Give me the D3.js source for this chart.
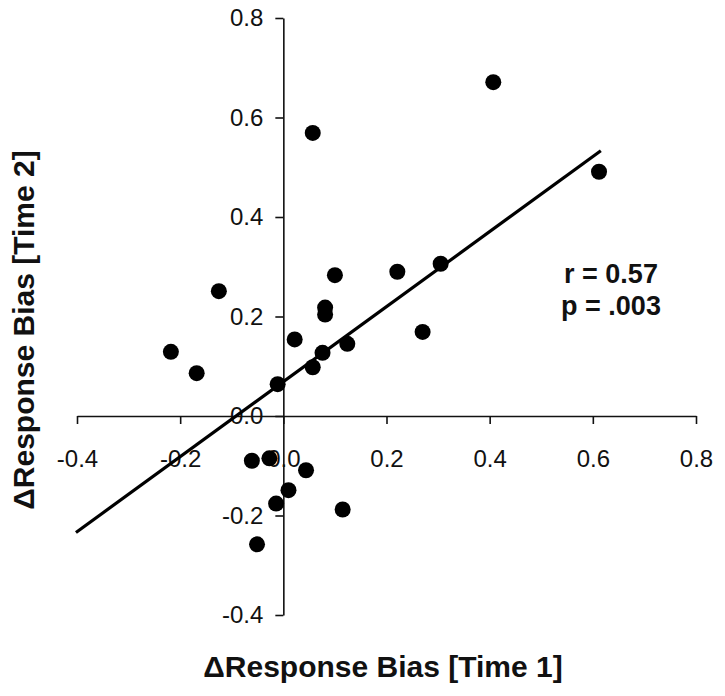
<!DOCTYPE html>
<html>
<head>
<meta charset="utf-8">
<script src="https://cdn.jsdelivr.net/npm/d3@7"></script>
<style>
  html, body { margin: 0; padding: 0; background: #fff; }
  svg { display: block; }
</style>
</head>
<body>
<svg id="chart" width="725" height="696"></svg>
<script>
// ---- data ----
const xValues = [0.407, 0.057, 0.612, -0.125, 0.100, 0.221, 0.305, 0.081, 0.081, 0.270,
                 0.022, 0.124, 0.076, 0.057, -0.218, -0.168, -0.011, -0.061, -0.027, 0.044,
                 0.010, -0.014, 0.115, -0.051];
const yValues = [0.671, 0.569, 0.491, 0.251, 0.283, 0.290, 0.306, 0.218, 0.204, 0.169,
                 0.154, 0.145, 0.127, 0.098, 0.129, 0.086, 0.064, -0.090, -0.085, -0.109,
                 -0.149, -0.176, -0.188, -0.258];
const fitX = [-0.402, 0.6155];
const fitSlope = [0.754];
const fitIntercept = [0.069];
const xTicks = [-0.4, -0.2, 0.0, 0.2, 0.4, 0.6, 0.8];
const yTicks = [-0.4, -0.2, 0.0, 0.2, 0.4, 0.6, 0.8];
const statLines = ["r = 0.57", "p = .003"];
const xTitle = "\u0394Response Bias [Time 1]";
const yTitle = "\u0394Response Bias [Time 2]";

// ---- chart ----
const svg = d3.select("#chart");
const x = d3.scaleLinear().domain([-0.4, 0.8]).range([77, 696]);
const y = d3.scaleLinear().domain([-0.4, 0.8]).range([615, 18]);
const fmt = d => d.toFixed(1);
const font = "Liberation Sans, Arial, Helvetica, sans-serif";

const xAxis = svg.append("g")
  .attr("transform", `translate(0,${y(0)})`)
  .call(d3.axisBottom(x).tickValues(xTicks).tickFormat(fmt).tickSize(8).tickPadding(26).tickSizeOuter(0));
const yAxis = svg.append("g")
  .attr("transform", `translate(${x(0)},0)`)
  .call(d3.axisLeft(y).tickValues(yTicks).tickFormat(fmt).tickSize(8).tickPadding(12).tickSizeOuter(0));

[xAxis, yAxis].forEach(g => {
  g.select(".domain").attr("stroke", "#111").attr("stroke-width", 1.6);
  g.selectAll(".tick line").attr("stroke", "#111").attr("stroke-width", 1.6);
  g.selectAll(".tick text").attr("fill", "#111").style("font-family", font).style("font-size", "24px");
});

// regression line
const fitData = fitX.map(v => [v, fitSlope[0] * v + fitIntercept[0]]);
svg.append("path")
  .datum(fitData)
  .attr("d", d3.line().x(d => x(d[0])).y(d => y(d[1])))
  .attr("stroke", "#000")
  .attr("stroke-width", 3.2)
  .attr("fill", "none");

// points
svg.append("g").selectAll("circle")
  .data(xValues.map((v, i) => [v, yValues[i]]))
  .join("circle")
  .attr("cx", d => x(d[0]))
  .attr("cy", d => y(d[1]))
  .attr("r", 8)
  .attr("fill", "#000");

// stats text
svg.append("g").selectAll("text")
  .data(statLines)
  .join("text")
  .attr("x", 611)
  .attr("y", (d, i) => 283 + i * 32)
  .attr("text-anchor", "middle")
  .style("font-family", font)
  .style("font-weight", "bold")
  .style("font-size", "27px")
  .attr("fill", "#111")
  .text(d => d);

// axis titles
svg.append("text")
  .attr("x", 383)
  .attr("y", 677)
  .attr("text-anchor", "middle")
  .style("font-family", font)
  .style("font-weight", "bold")
  .style("font-size", "30px")
  .attr("fill", "#111")
  .text(xTitle);

svg.append("text")
  .attr("transform", "translate(34,330) rotate(-90)")
  .attr("text-anchor", "middle")
  .style("font-family", font)
  .style("font-weight", "bold")
  .style("font-size", "30px")
  .attr("fill", "#111")
  .text(yTitle);
</script>
</body>
</html>
